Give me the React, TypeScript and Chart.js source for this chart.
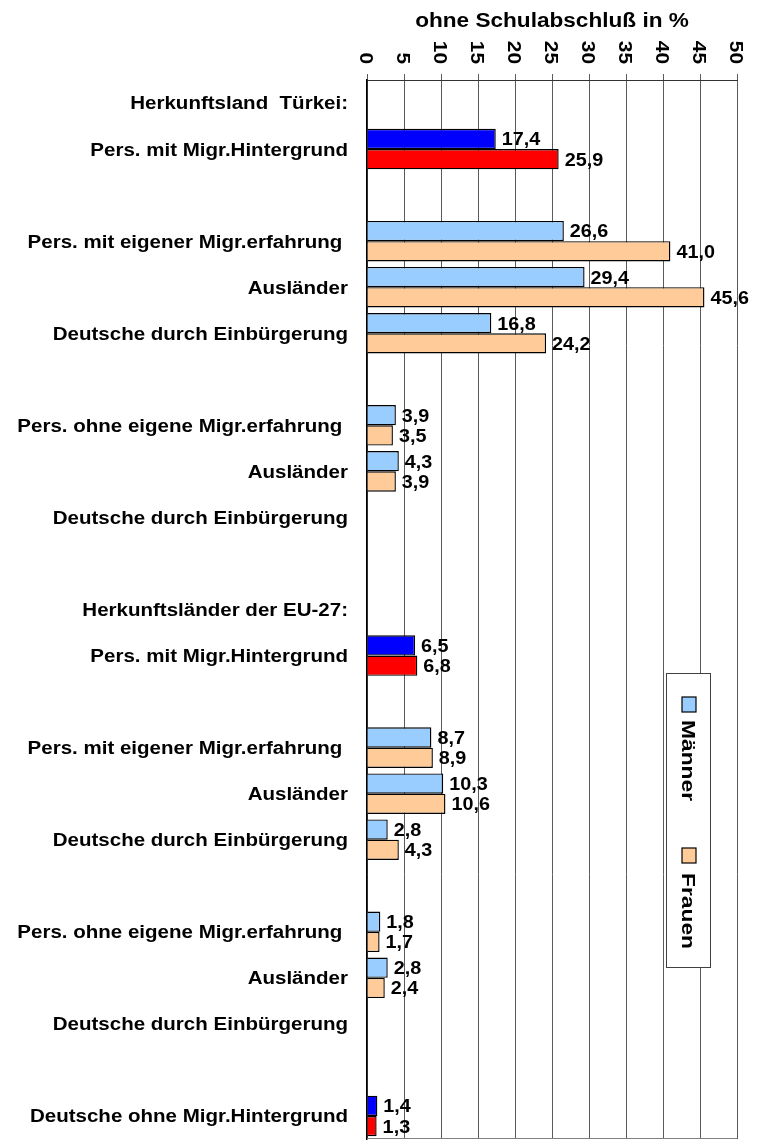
import React, { useEffect, useRef } from 'react';
import { Chart, registerables } from 'chart.js';

Chart.register(...registerables);

const categories: string[] = [
  'Herkunftsland  Türkei:',
  'Pers. mit Migr.Hintergrund',
  '',
  'Pers. mit eigener Migr.erfahrung ',
  'Ausländer',
  'Deutsche durch Einbürgerung',
  '',
  'Pers. ohne eigene Migr.erfahrung ',
  'Ausländer',
  'Deutsche durch Einbürgerung',
  '',
  'Herkunftsländer der EU-27:',
  'Pers. mit Migr.Hintergrund',
  '',
  'Pers. mit eigener Migr.erfahrung ',
  'Ausländer',
  'Deutsche durch Einbürgerung',
  '',
  'Pers. ohne eigene Migr.erfahrung ',
  'Ausländer',
  'Deutsche durch Einbürgerung',
  '',
  'Deutsche ohne Migr.Hintergrund',
];

const maenner: (number | null)[] = [
  null, 17.4, null, 26.6, 29.4, 16.8, null, 3.9, 4.3, null, null, null,
  6.5, null, 8.7, 10.3, 2.8, null, 1.8, 2.8, null, null, 1.4,
];

const frauen: (number | null)[] = [
  null, 25.9, null, 41.0, 45.6, 24.2, null, 3.5, 3.9, null, null, null,
  6.8, null, 8.9, 10.6, 4.3, null, 1.7, 2.4, null, null, 1.3,
];

// rows drawn in the strong colours (totals)
const totalRows: number[] = [1, 12, 22];

const seriesNames: string[] = ['Männer', 'Frauen'];
const valueTicks: number[] = [0, 5, 10, 15, 20, 25, 30, 35, 40, 45, 50];
const axisTitle = 'ohne Schulabschluß in %';

const LIGHT = ['#99CCFF', '#FFCC99'];
const STRONG = ['#0000FF', '#FF0000'];

const FONT = '"Liberation Sans", Arial, Helvetica, sans-serif';

function drawText(
  ctx: CanvasRenderingContext2D,
  s: string,
  x: number,
  y: number,
  size: number,
  stretch: number,
  align: CanvasTextAlign,
  rot = 0
) {
  ctx.save();
  ctx.translate(x, y);
  if (rot) ctx.rotate(rot);
  ctx.scale(stretch, 1);
  ctx.font = `bold ${size}px ${FONT}`;
  ctx.textAlign = align;
  ctx.textBaseline = 'alphabetic';
  ctx.fillStyle = '#000';
  ctx.fillText(s, 0, size * 0.358);
  ctx.restore();
}

const decorPlugin = {
  id: 'decor',
  beforeDatasetsDraw(chart: any) {
    const { ctx, chartArea: a } = chart;
    ctx.save();
    ctx.strokeStyle = '#808080';
    ctx.lineWidth = 1;
    ctx.beginPath();
    const yb = Math.round(a.bottom) - 0.5;
    ctx.moveTo(a.left, yb);
    ctx.lineTo(a.right, yb);
    ctx.stroke();
    ctx.restore();
  },
  afterDatasetsDraw(chart: any) {
    const ctx: CanvasRenderingContext2D = chart.ctx;
    chart.data.datasets.forEach((ds: any, di: number) => {
      const meta = chart.getDatasetMeta(di);
      meta.data.forEach((el: any, i: number) => {
        const v = ds.data[i];
        if (v === null || v === undefined) return;
        const label = v.toFixed(1).replace('.', ',');
        drawText(ctx, label, el.x + 6, el.y, 18, 1.1, 'left');
      });
    });
  },
  afterDraw(chart: any) {
    const ctx: CanvasRenderingContext2D = chart.ctx;
    const a = chart.chartArea;
    const xs = chart.scales.x;
    const ys = chart.scales.y;

    // axis title
    drawText(ctx, axisTitle, (a.left + a.right) / 2, 19.5, 20, 1.13, 'center');

    // value tick labels, rotated clockwise
    valueTicks.forEach((v) => {
      const px = xs.getPixelForValue(v);
      drawText(ctx, String(v), px, 64, 19, 1.1, 'right', Math.PI / 2);
    });

    // category labels
    categories.forEach((c, i) => {
      if (!c) return;
      const py = ys.getPixelForValue(i);
      drawText(ctx, c, a.left - 19, py, 18, 1.14, 'right');
    });

    // legend (vertical, rotated)
    const lx = a.right - 71;
    const ly = 673;
    const lw = 44;
    const lh = 294;
    ctx.save();
    ctx.fillStyle = '#FFFFFF';
    ctx.fillRect(lx, ly, lw, lh);
    ctx.strokeStyle = '#404040';
    ctx.lineWidth = 1;
    ctx.strokeRect(Math.round(lx) + 0.5, ly + 0.5, lw, lh);
    ctx.restore();

    const cx = lx + 23;
    const entries = [
      { name: seriesNames[0], color: LIGHT[0], sy: 697, ty: 720 },
      { name: seriesNames[1], color: LIGHT[1], sy: 848, ty: 873 },
    ];
    entries.forEach((e) => {
      ctx.save();
      ctx.fillStyle = e.color;
      ctx.fillRect(cx - 7, e.sy, 14, 15);
      ctx.strokeStyle = '#000';
      ctx.lineWidth = 1.2;
      ctx.strokeRect(cx - 7, e.sy, 14, 15);
      ctx.restore();
      drawText(ctx, e.name, cx, e.ty, 19, 1.2, 'left', Math.PI / 2);
    });
  },
};

export default function App() {
  const ref = useRef<HTMLCanvasElement | null>(null);

  useEffect(() => {
    if (!ref.current) return;
    const colorsFor = (k: number) =>
      categories.map((_, i) => (totalRows.includes(i) ? STRONG[k] : LIGHT[k]));

    const chart = new Chart(ref.current, {
      type: 'bar',
      data: {
        labels: categories,
        datasets: [
          {
            label: seriesNames[0],
            data: maenner,
            backgroundColor: colorsFor(0),
            borderColor: '#000',
            borderWidth: 1.4,
            categoryPercentage: 0.88,
            barPercentage: 1,
          },
          {
            label: seriesNames[1],
            data: frauen,
            backgroundColor: colorsFor(1),
            borderColor: '#000',
            borderWidth: 1.4,
            categoryPercentage: 0.88,
            barPercentage: 1,
          },
        ],
      },
      options: {
        indexAxis: 'y',
        responsive: false,
        animation: false,
        devicePixelRatio: 1,
        layout: { padding: { left: 0, right: 21, top: 0, bottom: 2 } },
        plugins: {
          legend: { display: false },
          tooltip: { enabled: false },
          title: { display: false },
        },
        scales: {
          x: {
            type: 'linear',
            position: 'top',
            min: 0,
            max: 50,
            ticks: { stepSize: 5, display: false },
            grid: {
              color: '#5a5a5a',
              lineWidth: 1,
              drawTicks: true,
              tickLength: 6,
            },
            border: { display: true, color: '#333', width: 1 },
            afterFit: (scale: any) => {
              scale.height = 80;
            },
          },
          y: {
            type: 'category',
            ticks: { display: false },
            grid: { display: false },
            border: { display: true, color: '#000', width: 1.5 },
            afterFit: (scale: any) => {
              scale.width = 367;
            },
          },
        },
      },
      plugins: [decorPlugin],
    } as any);

    return () => chart.destroy();
  }, []);

  return (
    <div style={{ position: 'absolute', left: 0, top: 0, width: 758, height: 1141, background: '#fff' }}>
      <canvas
        ref={ref}
        width={758}
        height={1141}
        style={{ display: 'block', width: 758, height: 1141 }}
      />
    </div>
  );
}
